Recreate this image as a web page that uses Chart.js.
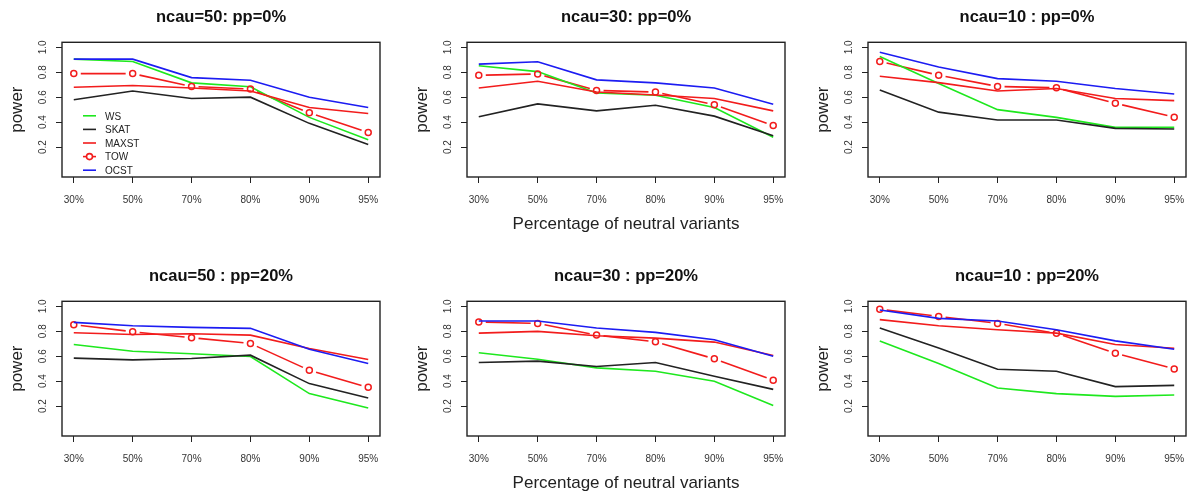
<!DOCTYPE html>
<html>
<head>
<meta charset="utf-8">
<script src="https://cdn.jsdelivr.net/npm/chart.js@4"></script>
<style>
  html, body { margin: 0; padding: 0; background: #fff; width: 1197px; height: 497px; overflow: hidden; position: relative; }
  .panel { position: absolute; width: 400px; height: 250px; }
</style>
</head>
<body>
<div class="panel" style="left:0px;top:0px"><canvas id="c1" width="400" height="250"></canvas></div>
<div class="panel" style="left:405px;top:0px"><canvas id="c2" width="400" height="250"></canvas></div>
<div class="panel" style="left:806px;top:0px"><canvas id="c3" width="400" height="250"></canvas></div>
<div class="panel" style="left:0px;top:259px"><canvas id="c4" width="400" height="250"></canvas></div>
<div class="panel" style="left:405px;top:259px"><canvas id="c5" width="400" height="250"></canvas></div>
<div class="panel" style="left:806px;top:259px"><canvas id="c6" width="400" height="250"></canvas></div>
<script>
const categories = ['30%', '50%', '70%', '80%', '90%', '95%'];
const yTicks = [0.2, 0.4, 0.6, 0.8, 1.0];
const methods = ['WS', 'SKAT', 'MAXST', 'TOW', 'OCST'];

// ncau=50, pp=0%
const ws50pp0    = [0.905, 0.886, 0.715, 0.683, 0.438, 0.258];
const skat50pp0  = [0.580, 0.649, 0.590, 0.600, 0.390, 0.221];
const maxst50pp0 = [0.680, 0.694, 0.673, 0.649, 0.517, 0.469];
const tow50pp0   = [0.789, 0.789, 0.686, 0.665, 0.475, 0.316];
const ocst50pp0  = [0.905, 0.905, 0.757, 0.736, 0.600, 0.517];
// ncau=30, pp=0%
const ws30pp0    = [0.852, 0.805, 0.633, 0.615, 0.517, 0.279];
const skat30pp0  = [0.443, 0.546, 0.490, 0.535, 0.448, 0.290];
const maxst30pp0 = [0.673, 0.728, 0.641, 0.617, 0.590, 0.490];
const tow30pp0   = [0.776, 0.786, 0.654, 0.641, 0.540, 0.372];
const ocst30pp0  = [0.865, 0.884, 0.739, 0.715, 0.673, 0.543];
// ncau=10, pp=0%
const ws10pp0    = [0.926, 0.710, 0.500, 0.438, 0.358, 0.358];
const skat10pp0  = [0.657, 0.480, 0.417, 0.417, 0.350, 0.345];
const maxst10pp0 = [0.768, 0.717, 0.649, 0.670, 0.590, 0.572];
const tow10pp0   = [0.886, 0.776, 0.686, 0.675, 0.551, 0.440];
const ocst10pp0  = [0.960, 0.842, 0.749, 0.728, 0.670, 0.625];
// ncau=50, pp=20%
const ws50pp20    = [0.694, 0.640, 0.619, 0.597, 0.300, 0.184];
const skat50pp20  = [0.584, 0.570, 0.581, 0.608, 0.380, 0.264];
const maxst50pp20 = [0.788, 0.774, 0.780, 0.769, 0.662, 0.573];
const tow50pp20   = [0.852, 0.796, 0.748, 0.702, 0.487, 0.350];
const ocst50pp20  = [0.871, 0.844, 0.831, 0.823, 0.656, 0.541];
// ncau=30, pp=20%
const ws30pp20    = [0.627, 0.576, 0.506, 0.479, 0.399, 0.205];
const skat30pp20  = [0.549, 0.560, 0.517, 0.549, 0.439, 0.334];
const maxst30pp20 = [0.785, 0.799, 0.764, 0.745, 0.713, 0.605];
const tow30pp20   = [0.874, 0.863, 0.769, 0.715, 0.579, 0.407];
const ocst30pp20  = [0.882, 0.882, 0.826, 0.791, 0.732, 0.600];
// ncau=10, pp=20%
const ws10pp20    = [0.721, 0.541, 0.345, 0.300, 0.278, 0.289];
const skat10pp20  = [0.826, 0.665, 0.495, 0.479, 0.356, 0.366];
const maxst10pp20 = [0.893, 0.844, 0.812, 0.785, 0.694, 0.664];
const tow10pp20   = [0.976, 0.919, 0.863, 0.783, 0.624, 0.498];
const ocst10pp20  = [0.970, 0.903, 0.882, 0.812, 0.723, 0.656];

const colors = { WS: '#1ee81e', SKAT: '#222222', MAXST: '#f21c1c', TOW: '#f21c1c', OCST: '#1c1cf2' };
const lineW = 1.6;
const tickColor = '#333';
const font = "'Liberation Sans', Arial, sans-serif";

const panels = [
  { id: 'c1', title: 'ncau=50: pp=0%',   series: [ws50pp0, skat50pp0, maxst50pp0, tow50pp0, ocst50pp0], xTitle: false, legend: true },
  { id: 'c2', title: 'ncau=30: pp=0%',   series: [ws30pp0, skat30pp0, maxst30pp0, tow30pp0, ocst30pp0], xTitle: true },
  { id: 'c3', title: 'ncau=10 : pp=0%',  series: [ws10pp0, skat10pp0, maxst10pp0, tow10pp0, ocst10pp0], xTitle: false },
  { id: 'c4', title: 'ncau=50 : pp=20%', series: [ws50pp20, skat50pp20, maxst50pp20, tow50pp20, ocst50pp20], xTitle: false },
  { id: 'c5', title: 'ncau=30 : pp=20%', series: [ws30pp20, skat30pp20, maxst30pp20, tow30pp20, ocst30pp20], xTitle: true },
  { id: 'c6', title: 'ncau=10 : pp=20%', series: [ws10pp20, skat10pp20, maxst10pp20, tow10pp20, ocst10pp20], xTitle: false },
];

// R-style type="b": segments stop short of each point
const gapLine = {
  id: 'gapLine',
  beforeDatasetsDraw(chart) {
    const ctx = chart.ctx;
    const gap = 7;
    chart.data.datasets.forEach((ds, i) => {
      if (!ds.gapLine) return;
      const pts = chart.getDatasetMeta(i).data;
      ctx.save();
      ctx.strokeStyle = ds.borderColor;
      ctx.lineWidth = lineW;
      for (let k = 0; k < pts.length - 1; k++) {
        const a = pts[k], b = pts[k + 1];
        const dx = b.x - a.x, dy = b.y - a.y, d = Math.hypot(dx, dy);
        if (d <= 2 * gap) continue;
        const ux = dx / d, uy = dy / d;
        ctx.beginPath();
        ctx.moveTo(a.x + ux * gap, a.y + uy * gap);
        ctx.lineTo(b.x - ux * gap, b.y - uy * gap);
        ctx.stroke();
      }
      ctx.restore();
    });
  },
};

const boxPlugin = {
  id: 'box',
  afterDatasetsDraw(chart) {
    const { ctx, chartArea: a } = chart;
    ctx.save();
    ctx.strokeStyle = '#222';
    ctx.lineWidth = 1.4;
    ctx.strokeRect(a.left, a.top, a.right - a.left, a.bottom - a.top);
    ctx.restore();
  },
};

const rLegend = {
  id: 'rLegend',
  afterDatasetsDraw(chart, args, opts) {
    if (!opts.show) return;
    const { ctx, chartArea: a } = chart;
    const x0 = a.left + 21, x1 = a.left + 34, tx = a.left + 43;
    let y = a.top + 73.5;
    ctx.save();
    ctx.font = '10px ' + font;
    ctx.textBaseline = 'middle';
    ctx.fillStyle = '#222';
    methods.forEach(m => {
      ctx.strokeStyle = colors[m];
      ctx.lineWidth = lineW;
      ctx.beginPath();
      ctx.moveTo(x0, y);
      ctx.lineTo(x1, y);
      ctx.stroke();
      if (m === 'TOW') {
        ctx.fillStyle = '#fff';
        ctx.beginPath();
        ctx.arc((x0 + x1) / 2, y, 3, 0, Math.PI * 2);
        ctx.fill();
        ctx.stroke();
        ctx.fillStyle = '#222';
      }
      ctx.fillText(m, tx, y + 1);
      y += 13.6;
    });
    ctx.restore();
  },
};

function buildChart(p) {
  const datasets = methods.map((m, i) => {
    const isTow = m === 'TOW';
    return {
      label: m,
      data: p.series[i].map((v, k) => ({ x: k, y: v })),
      borderColor: colors[m],
      borderWidth: lineW,
      showLine: !isTow,
      gapLine: isTow,
      pointRadius: isTow ? 3 : 0,
      pointBorderWidth: 1.5,
      pointBorderColor: colors[m],
      pointBackgroundColor: 'rgba(0,0,0,0)',
      tension: 0,
      order: [4, 3, 2, 1, 0][i],
    };
  });

  return new Chart(document.getElementById(p.id), {
    type: 'line',
    data: { datasets },
    options: {
      responsive: false,
      animation: false,
      events: [],
      layout: { padding: { left: 0, right: 20, top: 0, bottom: 0 } },
      plugins: {
        legend: { display: false },
        tooltip: { enabled: false },
        title: {
          display: true,
          text: p.title,
          fullSize: false,
          color: '#111',
          font: { family: font, size: 16.5, weight: 'bold' },
          padding: { top: 8, bottom: 14.5 },
        },
        rLegend: { show: !!p.legend },
      },
      scales: {
        x: {
          type: 'linear',
          min: -0.2,
          max: 5.2,
          afterBuildTicks: s => { s.ticks = categories.map((c, i) => ({ value: i })); },
          afterFit: s => { s.height = 73; },
          border: { display: false },
          grid: { drawOnChartArea: false, drawTicks: true, tickLength: 6, color: '#222' },
          ticks: {
            color: tickColor,
            font: { family: font, size: 10 },
            padding: 11.5,
            maxRotation: 0,
            autoSkip: false,
            callback: v => categories[v],
          },
          title: {
            display: p.xTitle,
            text: 'Percentage of neutral variants',
            color: '#222',
            font: { family: font, size: 17 },
            padding: { top: 0, bottom: 15 },
          },
        },
        y: {
          min: -0.04,
          max: 1.04,
          afterBuildTicks: s => { s.ticks = yTicks.map(v => ({ value: v })); },
          afterFit: s => { s.width = 62; },
          border: { display: false },
          grid: { drawOnChartArea: false, drawTicks: true, tickLength: 6, color: '#222' },
          ticks: {
            color: tickColor,
            font: { family: font, size: 10 },
            minRotation: 90,
            maxRotation: 90,
            crossAlign: 'center',
            padding: 6,
            callback: v => v.toFixed(1),
          },
          title: {
            display: true,
            text: 'power',
            color: '#222',
            font: { family: font, size: 17 },
            padding: { top: 7, bottom: 0 },
          },
        },
      },
    },
    plugins: [gapLine, boxPlugin, rLegend],
  });
}

panels.forEach(buildChart);
</script>
</body>
</html>
